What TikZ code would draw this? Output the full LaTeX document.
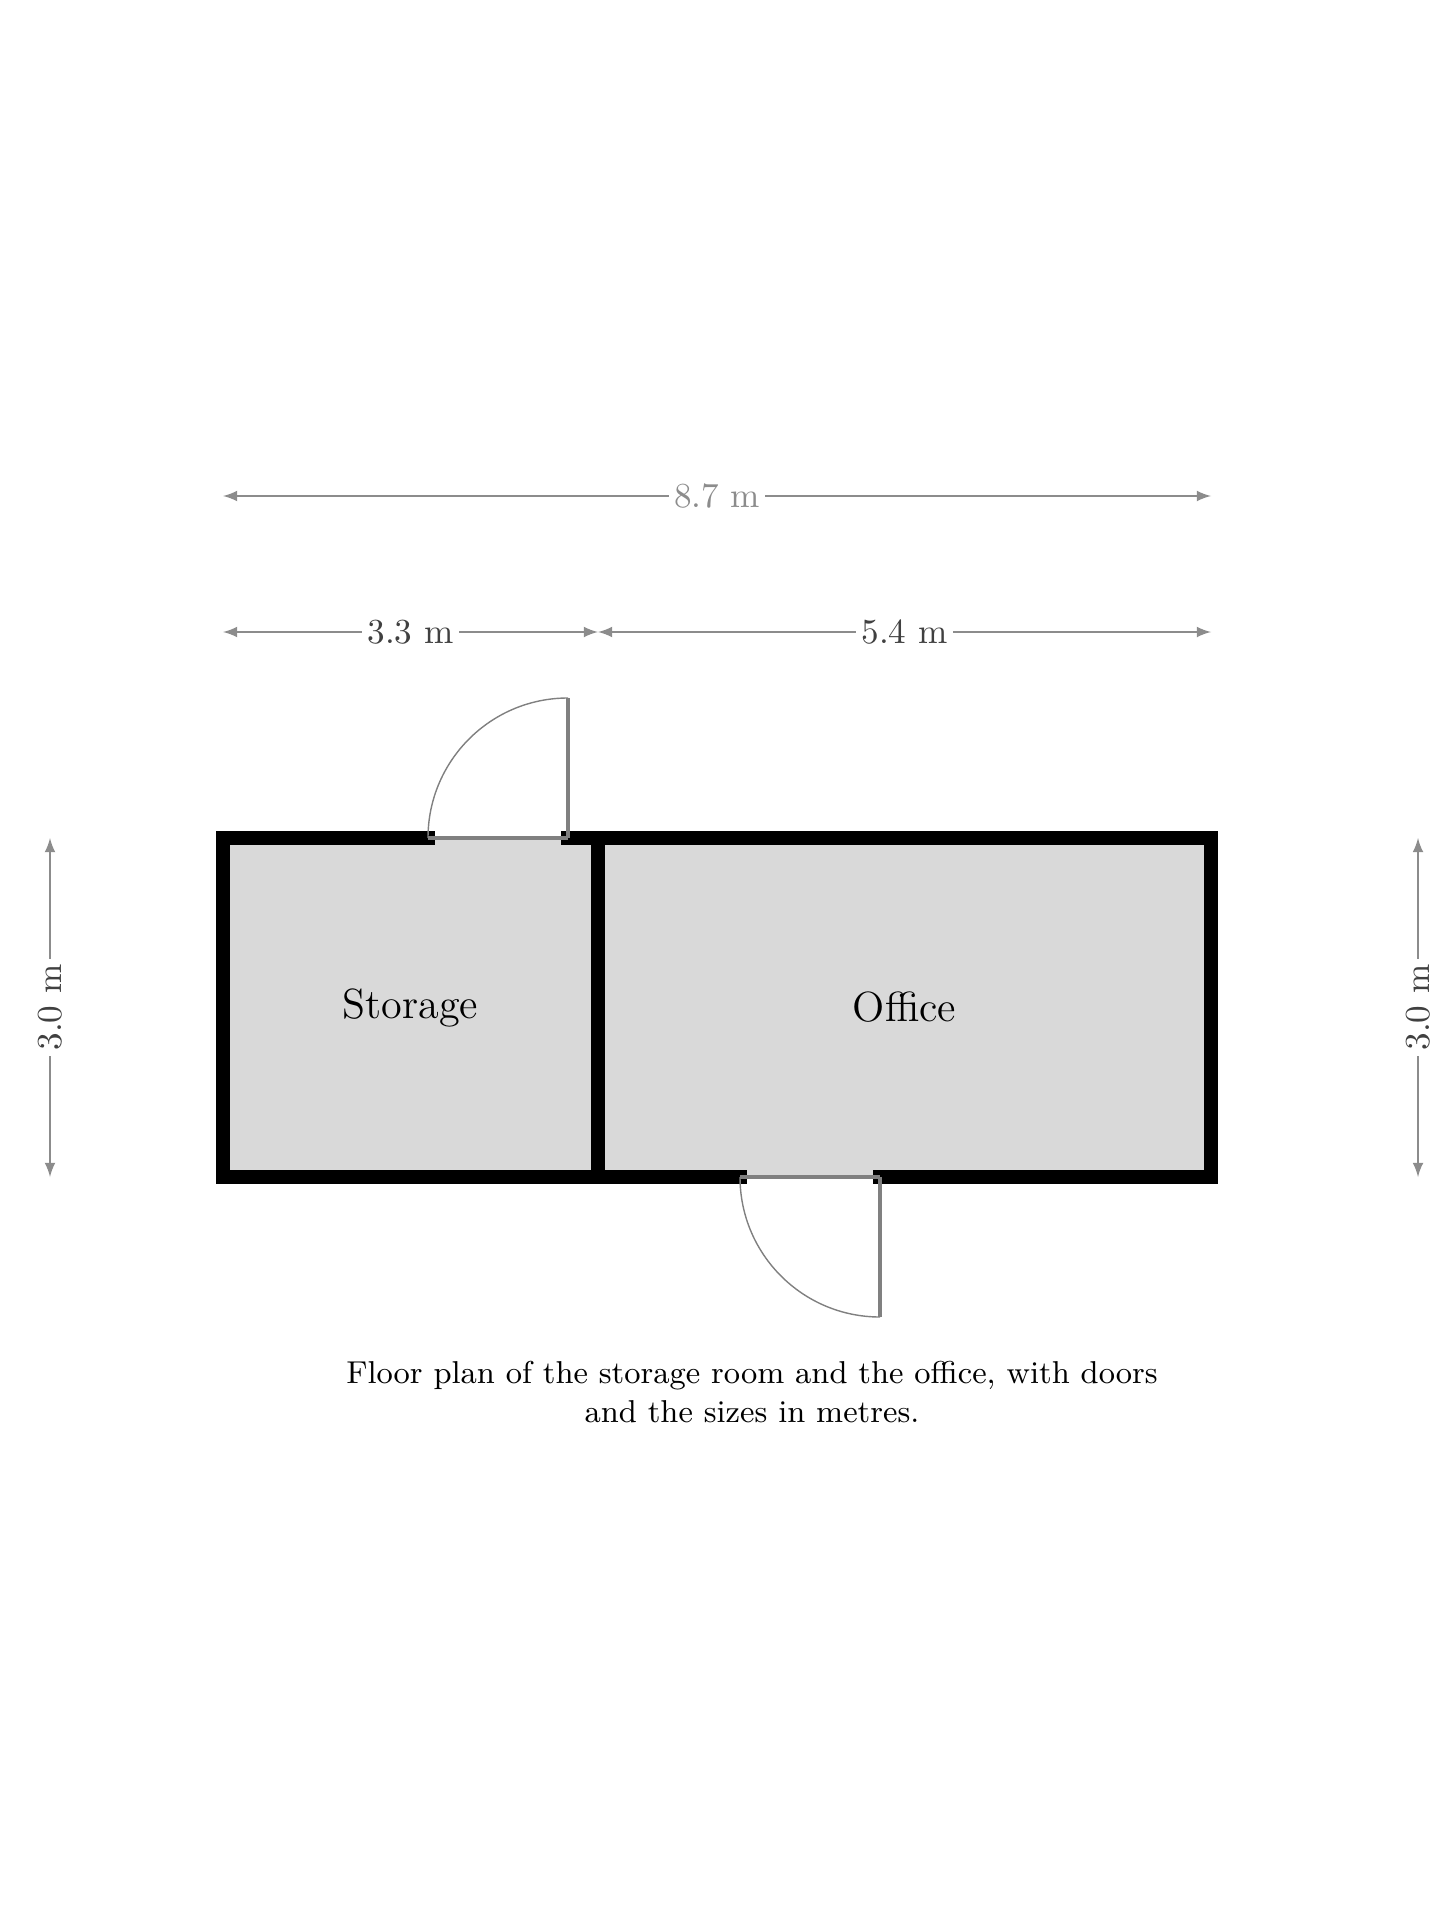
\documentclass[tikz,border=0pt]{standalone}
\usepackage{tikz}
\usetikzlibrary{arrows,positioning,calc}
\edef\wallwidth{4pt}
\edef\doorwidth{1.4cm}
\tikzstyle{room}=[fill=black!15]
\tikzstyle{wall}=[line width=\wallwidth,line cap=rect]
\tikzstyle{door}=[thin,black!50]
\tikzstyle{roomlabel}=[font=\large]
\tikzstyle{dimline}=[latex-latex,black!45,thin]
\tikzstyle{dimlabel}=[fill=white,inner sep=1.5pt,text=black!75]

\begin{document}
\begin{tikzpicture}
	\useasboundingbox (0,-19.2) rectangle (14.4,0);
	% wall corners
	\coordinate (a) at (2.23,-8.38);
	\coordinate (b) at (5.98,-8.38);
	\coordinate (c) at (12.11,-8.38);
	\coordinate (d) at (2.23,-11.77);
	\coordinate (e) at (5.98,-11.77);
	\coordinate (f) at (12.11,-11.77);
	% doors: jamb, hinge, leaf
	\coordinate (t1) at (4.28,-8.38);
	\coordinate (t2) at (5.68,-8.38);
	\coordinate (t3) at (5.68,-6.98);
	\coordinate (b1) at (7.4,-11.77);
	\coordinate (b2) at (8.8,-11.77);
	\coordinate (b3) at (8.8,-13.17);
	
	\fill[room] (a) rectangle (e);
	\fill[room] (b) rectangle (f);
	
	\draw[wall] (t1) -- (a) -- (d) -- (b1);
	\draw[wall] (b2) -- (f) -- (c) -- (t2);
	\draw[wall] (b) -- (e);
	
	\draw[door,line width=1.2pt] (t1) -- (t2);
	\draw[door,line width=1pt] (t2) -- (t3);
	\draw[door] (t3) arc (90:180:\doorwidth);
	\draw[door,line width=1.2pt] (b1) -- (b2);
	\draw[door,line width=1pt] (b2) -- (b3);
	\draw[door] (b3) arc (270:180:\doorwidth);
	
	\node[roomlabel] (storage) at ($(a)!0.5!(e)$) {Storage};
	\node[roomlabel] (office) at ($(b)!0.5!(f)$) {Office};
	
	% dimensions
	\draw[dimline] ($(a)+(0,3.42)$) -- node[dimlabel,text=black!45] (wtotal) {8.7 m} ($(c)+(0,3.42)$);
	\draw[dimline] ($(a)+(0,2.06)$) -- node[dimlabel] (wleft) {3.3 m} ($(b)+(0,2.06)$);
	\draw[dimline] ($(b)+(0,2.06)$) -- node[dimlabel] (wright) {5.4 m} ($(c)+(0,2.06)$);
	\draw[dimline] ($(a)+(-1.73,0)$) -- node[dimlabel,rotate=90] (hleft) {3.0 m} ($(d)+(-1.73,0)$);
	\draw[dimline] ($(c)+(2.07,0)$) -- node[dimlabel,rotate=90] (hright) {3.0 m} ($(f)+(2.07,0)$);
	
	\node[align=center,font=\small] (caption) at (7.52,-13.92) {Floor plan of the storage room and the office, with doors\\and the sizes in metres.};
\end{tikzpicture}
\end{document}
